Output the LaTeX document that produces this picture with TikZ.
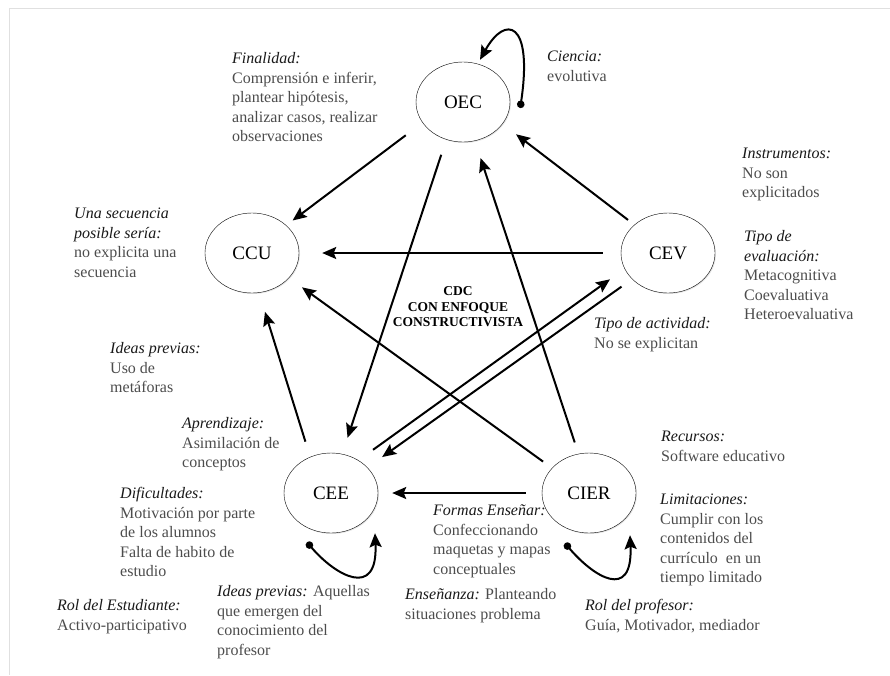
\documentclass[tikz,border=0pt]{standalone}
\usepackage{fontspec}
\setmainfont{Liberation Serif}
\usepackage{tikz}
\usetikzlibrary{shapes.geometric, arrows.meta, shadows}
\tikzstyle{concept} = [ellipse, draw=black, thin, fill=white, minimum width=94pt, minimum height=80pt, inner sep=0pt, font=\fontsize{19}{22}\selectfont, drop shadow={opacity=0.2, shadow xshift=1pt, shadow yshift=-1pt}]
\tikzstyle{note} = [anchor=north west, align=left, inner sep=0pt, text=black!70, font=\fontsize{16}{19.5}\selectfont]
\tikzstyle{centre} = [align=center, inner sep=0pt, font=\fontsize{13.5}{15.5}\selectfont\bfseries]
\tikzstyle{arrow} = [line width=2pt, -{Stealth[length=14pt, width=12pt, inset=2.5pt]}]
\tikzstyle{selfloop} = [line width=2pt, {Circle[length=7.5pt]}-{Stealth[length=14pt, width=12pt, inset=2.5pt]}]
\newcommand{\notehead}[1]{\textcolor{black!90}{\textit{#1}}}

\begin{document}
\begin{tikzpicture}[x=1pt, y=-1pt]
		\useasboundingbox (0,0) rectangle (890,675);
		\draw [black!12, line width=1pt] (9,675) -- (9,8) -- (890,8);
		% Nodes
		\node (OEC) [concept] at (463,102) {OEC};
		\node (CCU) [concept] at (252,253) {CCU};
		\node (CEV) [concept] at (668,253) {CEV};
		\node (CEE) [concept] at (331,493) {CEE};
		\node (CIER) [concept] at (589,493) {CIER};
		\node (CDC) [centre] at (458,307) {CDC\\CON ENFOQUE\\CONSTRUCTIVISTA};
		% Notes
		\node (Finalidad) [note] at (232,50) {\strut\notehead{Finalidad:}\\Comprensión e inferir,\\plantear hipótesis,\\analizar casos, realizar\\observaciones};
		\node (Ciencia) [note] at (547,48) {\strut\notehead{Ciencia:}\\evolutiva};
		\node (Instrumentos) [note] at (742,145) {\strut\notehead{Instrumentos:}\\No son\\explicitados};
		\node (Secuencia) [note] at (74,205) {\strut\notehead{Una secuencia}\\\notehead{posible sería:}\\no explicita una\\secuencia};
		\node (TipoEval) [note] at (744,228) {\strut\notehead{Tipo de}\\\notehead{evaluación:}\\Metacognitiva\\Coevaluativa\\Heteroevaluativa};
		\node (TipoAct) [note] at (594,315) {\strut\notehead{Tipo de actividad:}\\No se explicitan};
		\node (IdeasPrevias) [note] at (110,340) {\strut\notehead{Ideas previas:}\\Uso de\\metáforas};
		\node (Aprendizaje) [note] at (182,415) {\strut\notehead{Aprendizaje:}\\Asimilación de\\conceptos};
		\node (Recursos) [note] at (661,428) {\strut\notehead{Recursos:}\\Software educativo};
		\node (Dificultades) [note] at (120,485) {\strut\notehead{Dificultades:}\\Motivación por parte\\de los alumnos\\Falta de habito de\\estudio};
		\node (Limitaciones) [note] at (660,491) {\strut\notehead{Limitaciones:}\\Cumplir con los\\contenidos del\\currículo\ \ en un\\tiempo limitado};
		\node (Formas) [note] at (433,502) {\strut\notehead{Formas Enseñar:}\\Confeccionando\\maquetas y mapas\\conceptuales};
		\node (Ensenanza) [note] at (405,586) {\strut\notehead{Enseñanza:} Planteando\\situaciones problema};
		\node (IdeasAlumno) [note] at (217,583) {\strut\notehead{Ideas previas:} Aquellas\\que emergen del\\conocimiento del\\profesor};
		\node (RolEst) [note] at (57,597) {\strut\notehead{Rol del Estudiante:}\\Activo-participativo};
		\node (RolProf) [note] at (585,597) {\strut\notehead{Rol del profesor:}\\Guía, Motivador, mediador};
		% Arrows
		\draw [arrow, shorten <=21pt, shorten >=8pt] (OEC.207) -- (CCU.39);
		\draw [arrow, shorten <=16pt, shorten >=17pt] (OEC.246) -- (CEE.74);
		\draw [arrow, shorten <=8pt, shorten >=17pt] (CEV.140) -- (OEC.331);
		\draw [arrow, shorten <=12pt, shorten >=18pt] (CIER.105) -- (OEC.287);
		\draw [arrow, shorten <=18pt, shorten >=23pt] (CEV) -- (CCU);
		\draw [arrow, shorten <=11pt, shorten >=16pt] (CIER.146) -- (CCU.326);
		\draw [arrow, shorten <=16pt, shorten >=20pt] (CEE.120) -- (CCU.280);
		\draw [arrow, shorten <=18pt, shorten >=18pt] (CEE.50) -- (CEV.200);
		\draw [arrow, shorten <=13pt, shorten >=18pt] (CEV.216) -- (CEE.35);
		\draw [arrow, shorten <=16pt, shorten >=14pt] (CIER) -- (CEE);
		% Loops
		\draw [selfloop] ([shift={(10,6)}]OEC.east) .. controls +(13,-88) and +(25,-45) .. ([shift={(17,-2)}]OEC.north);
		\draw [selfloop] ([shift={(-24,9)}]CEE.south) .. controls +(28,33) and +(3,67) .. ([shift={(44,0)}]CEE.south);
		\draw [selfloop] ([shift={(-24,10)}]CIER.south) .. controls +(28,33) and +(3,67) .. ([shift={(41,2)}]CIER.south);
	\end{tikzpicture}
\end{document}
